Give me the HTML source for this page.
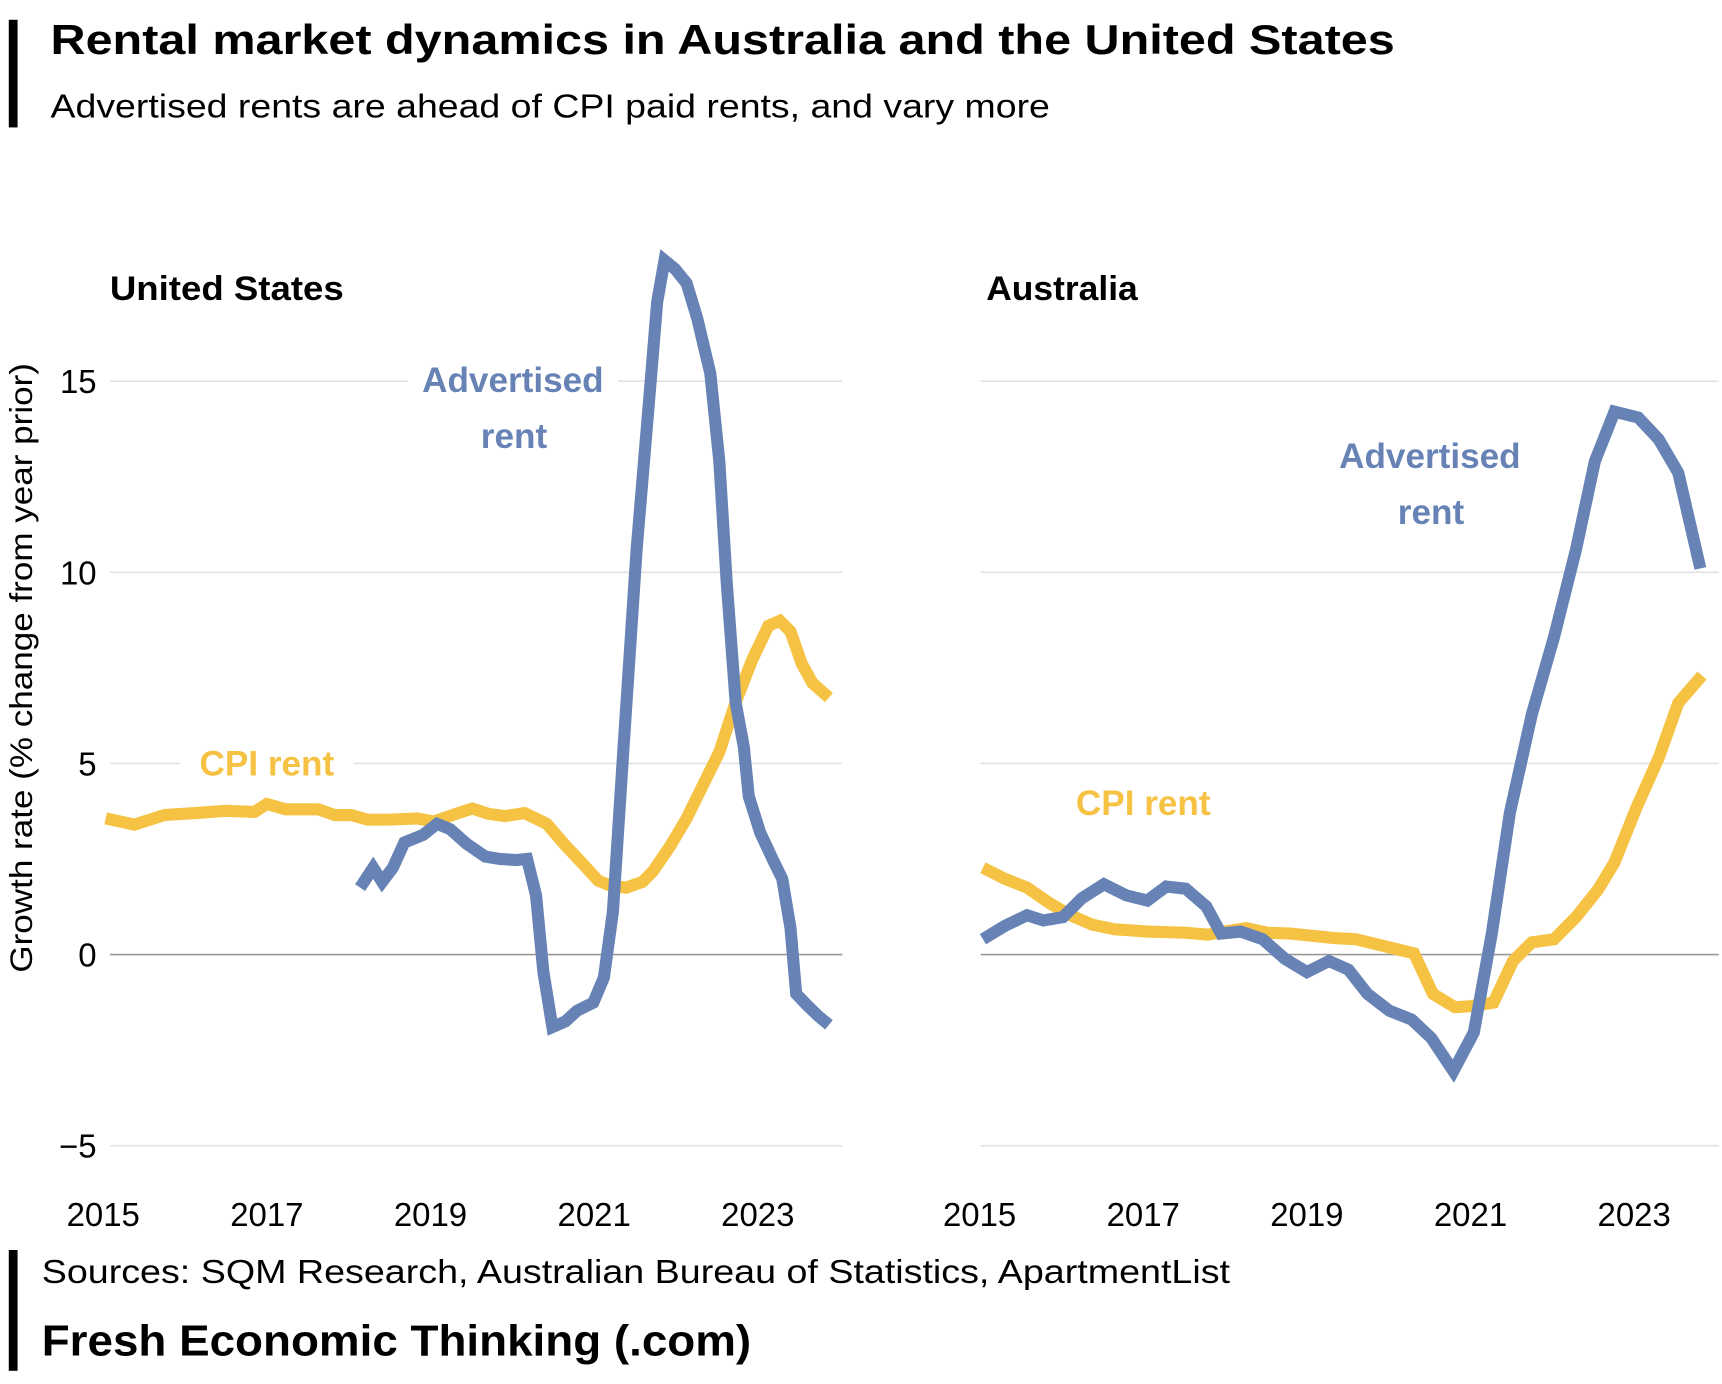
<!DOCTYPE html>
<html><head><meta charset="utf-8"><style>
html,body{margin:0;padding:0;background:#fff;}
svg{display:block;font-family:"Liberation Sans",Arial,sans-serif;}
</style></head><body>
<svg id="chart" width="1722" height="1384" viewBox="0 0 1568 1260" preserveAspectRatio="none">
<rect x="8" y="18" width="8" height="98" fill="#000"/>
<text x="46" y="49" font-size="38" font-weight="bold" textLength="1224" lengthAdjust="spacingAndGlyphs">Rental market dynamics in Australia and the United States</text>
<text x="46" y="107" font-size="30" textLength="910" lengthAdjust="spacingAndGlyphs">Advertised rents are ahead of CPI paid rents, and vary more</text>
<text transform="translate(29,608) rotate(-90)" text-anchor="middle" font-size="29" textLength="555" lengthAdjust="spacingAndGlyphs">Growth rate (% change from year prior)</text>
<text x="100" y="273" font-size="31" font-weight="bold" textLength="213" lengthAdjust="spacingAndGlyphs">United States</text>
<text x="898" y="273" font-size="31" font-weight="bold" textLength="138" lengthAdjust="spacingAndGlyphs">Australia</text>
<g id="us"></g>
<g id="au"></g>
<rect x="8" y="1138" width="8" height="110" fill="#000"/>
<text x="38" y="1168" font-size="30" textLength="1082" lengthAdjust="spacingAndGlyphs">Sources: SQM Research, Australian Bureau of Statistics, ApartmentList</text>
<text x="38" y="1234" font-size="40" font-weight="bold" textLength="646" lengthAdjust="spacingAndGlyphs">Fresh Economic Thinking (.com)</text>
</svg>
<script>
const yTicks = [-5, 0, 5, 10, 15];
const xTicks = [2015, 2017, 2019, 2021, 2023];
const usCpiYears = [2015.03,2015.38,2015.75,2016.13,2016.49,2016.85,2017.0,2017.23,2017.63,2017.83,2018.03,2018.23,2018.5,2018.84,2019.04,2019.31,2019.51,2019.71,2019.91,2020.15,2020.42,2020.65,2020.85,2021.05,2021.19,2021.39,2021.59,2021.72,2021.93,2022.13,2022.33,2022.53,2022.73,2022.93,2023.13,2023.27,2023.4,2023.54,2023.67,2023.87];
const usCpiValues = [3.56,3.4,3.65,3.7,3.76,3.73,3.94,3.8,3.8,3.65,3.65,3.53,3.53,3.56,3.48,3.68,3.82,3.68,3.62,3.7,3.42,2.85,2.4,1.93,1.81,1.75,1.9,2.18,2.84,3.56,4.43,5.3,6.6,7.7,8.6,8.73,8.45,7.6,7.1,6.72];
const usAdvYears = [2018.14,2018.3,2018.41,2018.54,2018.68,2018.91,2019.08,2019.24,2019.44,2019.67,2019.85,2020.05,2020.18,2020.29,2020.38,2020.49,2020.65,2020.79,2020.99,2021.12,2021.23,2021.36,2021.52,2021.66,2021.77,2021.86,2021.99,2022.13,2022.26,2022.42,2022.53,2022.62,2022.73,2022.83,2022.89,2023.03,2023.2,2023.3,2023.4,2023.47,2023.6,2023.74,2023.87];
const usAdvValues = [1.75,2.27,1.9,2.27,2.93,3.13,3.42,3.28,2.9,2.56,2.5,2.47,2.5,1.55,-0.46,-1.9,-1.75,-1.47,-1.26,-0.6,1.12,5.43,10.6,14.2,17.07,18.16,17.93,17.56,16.64,15.2,12.9,9.74,6.58,5.43,4.14,3.19,2.41,1.98,0.69,-1.03,-1.32,-1.61,-1.84];
const auAdvYears = [2015.04,2015.31,2015.58,2015.78,2016.02,2016.25,2016.52,2016.79,2017.05,2017.28,2017.52,2017.77,2017.95,2018.19,2018.46,2018.73,2019.0,2019.27,2019.51,2019.74,2020.01,2020.28,2020.52,2020.79,2021.04,2021.26,2021.48,2021.75,2022.02,2022.29,2022.52,2022.76,2023.05,2023.3,2023.54,2023.81];
const auAdvValues = [0.4,0.75,1.03,0.89,0.98,1.47,1.84,1.55,1.41,1.78,1.72,1.26,0.55,0.6,0.4,-0.11,-0.46,-0.17,-0.4,-1.03,-1.47,-1.7,-2.18,-3.05,-2.04,0.55,3.7,6.29,8.3,10.6,12.9,14.2,14.05,13.48,12.6,10.1];
const auCpiYears = [2015.04,2015.31,2015.58,2015.85,2016.11,2016.38,2016.65,2017.05,2017.52,2017.79,2017.99,2018.26,2018.52,2018.79,2019.06,2019.33,2019.6,2019.87,2020.31,2020.54,2020.81,2021.01,2021.28,2021.52,2021.75,2022.02,2022.29,2022.56,2022.76,2023.03,2023.3,2023.54,2023.83];
const auCpiValues = [2.27,1.98,1.75,1.35,1.03,0.78,0.66,0.6,0.57,0.52,0.6,0.69,0.57,0.55,0.49,0.43,0.4,0.26,0.03,-1.03,-1.38,-1.35,-1.26,-0.17,0.32,0.4,0.98,1.7,2.41,3.85,5.14,6.58,7.3];

const NS = 'http://www.w3.org/2000/svg';
const BLUE = '#6783b5', YELLOW = '#f6c243';
function yScale(v){ return 869 - v * 34.8; }
function mk(tag, attrs, parent){ const e = document.createElementNS(NS, tag); for (const k in attrs) e.setAttribute(k, attrs[k]); parent.appendChild(e); return e; }

function drawPanel(g, x0, gx1, gx2, showY, series, labels){
  const xScale = yr => x0 + (yr - 2015) * 74.5;
  yTicks.forEach(t => {
    const l = mk('line', {x1: gx1, x2: gx2, y1: yScale(t), y2: yScale(t), stroke: t === 0 ? '#999' : '#e2e2e2', 'stroke-width': 1.5}, g);
    
    
    if (showY) {
      const tx = mk('text', {x: 88, y: yScale(t) + 11, 'text-anchor': 'end', 'font-size': 30}, g);
      tx.textContent = t === -5 ? '\u22125' : String(t);
      
      
    }
  });
  xTicks.forEach(t => {
    const tx = mk('text', {x: xScale(t), y: 1116, 'text-anchor': 'middle', 'font-size': 30}, g);
    tx.textContent = String(t);
    
    
  });
  labels.forEach(lb => {
    const w = lb.text.length * 17 + 22;
    const r = mk('rect', {x: lb.x - w/2, y: lb.y - 24, width: w, height: 34, fill: '#fff'}, g);
    
    
  });
  series.forEach(s => {
    const d = s.years.map((yr, i) => (i ? 'L' : 'M') + xScale(yr).toFixed(1) + ',' + yScale(s.values[i]).toFixed(1)).join(' ');
    const p = mk('path', {d: d, fill: 'none', stroke: s.color, 'stroke-width': 11, 'stroke-linejoin': 'miter', 'stroke-miterlimit': 3}, g);
    
    
  });
  labels.forEach(lb => {
    const tx = mk('text', {x: lb.x, y: lb.y + 9, 'text-anchor': 'middle', 'font-size': 32, 'font-weight': 'bold', fill: lb.color}, g);
    tx.textContent = lb.text;
    
    
  });
}

drawPanel(document.getElementById('us'), 94, 100, 767, true,
  [{years: usCpiYears, values: usCpiValues, color: YELLOW, name: 'us-cpi-rent-line'},
   {years: usAdvYears, values: usAdvValues, color: BLUE, name: 'us-advertised-rent-line'}],
  [{x: 467, y: 348, text: 'Advertised', color: BLUE, name: 'us-advertised-label'},
   {x: 468, y: 399, text: 'rent', color: BLUE, name: 'us-advertised-label-2'},
   {x: 243, y: 697, text: 'CPI rent', color: YELLOW, name: 'us-cpi-label'}]);
drawPanel(document.getElementById('au'), 892, 893, 1565, false,
  [{years: auCpiYears, values: auCpiValues, color: YELLOW, name: 'au-cpi-rent-line'},
   {years: auAdvYears, values: auAdvValues, color: BLUE, name: 'au-advertised-rent-line'}],
  [{x: 1302, y: 417, text: 'Advertised', color: BLUE, name: 'au-advertised-label'},
   {x: 1303, y: 468, text: 'rent', color: BLUE, name: 'au-advertised-label-2'},
   {x: 1041, y: 733, text: 'CPI rent', color: YELLOW, name: 'au-cpi-label'}]);
</script>
</body></html>
